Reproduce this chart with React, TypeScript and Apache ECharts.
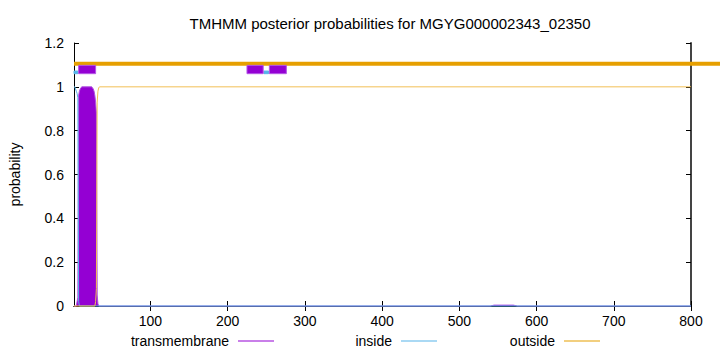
import React, { useEffect, useRef } from "react";
import * as echarts from "echarts";

const title = "TMHMM posterior probabilities for MGYG000002343_02350";
const xTicks = [100, 200, 300, 400, 500, 600, 700, 800];
const yTicks = [0, 0.2, 0.4, 0.6, 0.8, 1, 1.2];

// posterior probability curves (position, probability)
const tmPos = [1, 4, 5, 6, 7, 8, 9, 11, 24, 25, 26, 27, 28, 29, 30, 31, 32, 33, 540, 545, 570, 575, 800];
const tmProb = [0, 0, 0.02, 0.04, 0.96, 0.98, 0.99, 1, 1, 0.995, 0.99, 0.98, 0.96, 0.93, 0.88, 0.05, 0.01, 0, 0, 0.004, 0.004, 0, 0];

const insidePos = [1, 2, 3, 4, 5, 6, 7, 8, 800];
const insideProb = [1, 1, 0.99, 0.98, 0.97, 0.95, 0.02, 0, 0];

const outsidePos = [1, 28, 29, 30, 31, 32, 33, 34, 800];
const outsideProb = [0, 0, 0.02, 0.08, 0.93, 0.98, 0.995, 1, 1];

// predicted topology strips (start, end)
const tmStrips = [[7, 29], [225, 246], [254, 276]];
const insideStrips = [[1, 6], [247, 253]];
const outsideStrip = [[1, 850]];

const TM_LO = 1.06, TM_HI = 1.098;
const IN_LO = 1.06, IN_HI = 1.072;
const OUT_LO = 1.096, OUT_HI = 1.114;

const PURPLE = "#9400d3";
const BLUE = "#56b4e9";
const ORANGE = "#e69f00";
const FONT = "Liberation Sans";

export default function App() {
  const ref = useRef<HTMLDivElement>(null);
  useEffect(() => {
    if (!ref.current) return;
    const chart = echarts.init(ref.current, undefined, { renderer: "svg" });

    const stripRender = (fill: string, stroke: string | null) => (params: any, api: any) => {
      const s = api.value(0), e = api.value(1), lo = api.value(2), hi = api.value(3);
      const p1 = api.coord([s, hi]);
      const p2 = api.coord([e, lo]);
      return {
        type: "rect",
        shape: { x: p1[0], y: p1[1], width: p2[0] - p1[0], height: p2[1] - p1[1] },
        style: stroke ? { fill, stroke, lineWidth: 1 } : { fill },
      };
    };

    const legendCommon = {
      orient: "horizontal",
      align: "right",
      top: 334,
      itemWidth: 36,
      itemHeight: 14,
      padding: 0,
      selectedMode: false,
      textStyle: { fontFamily: FONT, fontSize: 14, color: "#000", padding: [0, 4, 0, 0] },
    };
    const lineIcon = "path://M0,0 L36,0 L36,1 L0,1 Z";

    chart.setOption({
      animation: false,
      backgroundColor: "#fff",
      title: {
        text: title,
        left: 385,
        textAlign: "center",
        top: 11,
        textStyle: { fontFamily: FONT, fontSize: 15, fontWeight: "normal", color: "#000" },
      },
      legend: [
        { ...legendCommon, data: [{ name: "transmembrane", icon: lineIcon }], right: 446 },
        { ...legendCommon, data: [{ name: "inside", icon: lineIcon }], right: 283 },
        { ...legendCommon, data: [{ name: "outside", icon: lineIcon }], right: 120 },
      ],
      grid: { left: 73, right: 29, top: 43, bottom: 46 },
      xAxis: [
        {
          type: "value",
          min: 1,
          max: 800,
          position: "bottom",
          splitLine: { show: false },
          axisLine: { show: true, lineStyle: { color: "#000", width: 1 } },
          axisTick: { show: true, inside: true, length: 5, customValues: xTicks, lineStyle: { color: "#000" } },
          axisLabel: { show: true, customValues: xTicks, margin: 8, fontFamily: FONT, fontSize: 14, color: "#000" },
        },
        {
          type: "value",
          min: 1,
          max: 800,
          position: "top",
          splitLine: { show: false },
          axisLine: { show: true, lineStyle: { color: "#000", width: 1 } },
          axisTick: { show: true, inside: true, length: 5, customValues: xTicks, lineStyle: { color: "#000" } },
          axisLabel: { show: false },
        },
      ],
      yAxis: [
        {
          type: "value",
          min: 0,
          max: 1.2,
          interval: 0.2,
          position: "left",
          name: "probability",
          nameLocation: "middle",
          nameRotate: 90,
          nameGap: 52,
          nameTextStyle: { fontFamily: FONT, fontSize: 14, color: "#000" },
          splitLine: { show: false },
          axisLine: { show: true, lineStyle: { color: "#000", width: 1 } },
          axisTick: { show: true, inside: true, length: 5, lineStyle: { color: "#000" } },
          axisLabel: {
            margin: 10,
            fontFamily: FONT,
            fontSize: 14,
            color: "#000",
            formatter: (v: number) => {
              const r = Math.round(v * 10) / 10;
              return yTicks.includes(r) ? String(r) : "";
            },
          },
        },
        {
          type: "value",
          min: 0,
          max: 1.2,
          interval: 0.2,
          position: "right",
          splitLine: { show: false },
          axisLine: { show: true, lineStyle: { color: "#444", width: 2 } },
          axisTick: { show: true, inside: true, length: 5, lineStyle: { color: "#000" } },
          axisLabel: { show: false },
        },
      ],
      series: [
        {
          name: "transmembrane",
          type: "line",
          xAxisIndex: 0,
          yAxisIndex: 0,
          data: tmPos.map((p, i) => [p, tmProb[i]]),
          symbol: "none",
          clip: false,
          color: PURPLE,
          lineStyle: { color: "#b050e0", width: 1 },
          areaStyle: { color: PURPLE, opacity: 1 },
          z: 3,
        },
        {
          name: "inside",
          type: "line",
          data: insidePos.map((p, i) => [p, insideProb[i]]),
          symbol: "none",
          clip: false,
          color: BLUE,
          lineStyle: { color: BLUE, width: 1 },
          z: 10,
        },
        {
          name: "outside",
          type: "line",
          data: outsidePos.map((p, i) => [p, outsideProb[i]]),
          symbol: "none",
          clip: false,
          color: ORANGE,
          lineStyle: { color: "#f2bf55", width: 1 },
          z: 10,
        },
        {
          name: "outsideStrip",
          type: "custom",
          renderItem: stripRender(ORANGE, null),
          clip: false,
          data: outsideStrip.map(([s, e]) => [s, e, OUT_LO, OUT_HI]),
          encode: { x: [0, 1], y: [2, 3] },
          z: 5,
        },
        {
          name: "insideStrip",
          type: "custom",
          renderItem: stripRender(BLUE, BLUE),
          data: insideStrips.map(([s, e]) => [s, e, IN_LO, IN_HI]),
          encode: { x: [0, 1], y: [2, 3] },
          z: 6,
        },
        {
          name: "tmStrip",
          type: "custom",
          renderItem: stripRender(PURPLE, "#b455e6"),
          data: tmStrips.map(([s, e]) => [s, e, TM_LO, TM_HI]),
          encode: { x: [0, 1], y: [2, 3] },
          z: 6,
        },
      ],
    });
    return () => chart.dispose();
  }, []);
  return <div ref={ref} style={{ width: 720, height: 352, position: "absolute", left: 0, top: 0 }} />;
}
